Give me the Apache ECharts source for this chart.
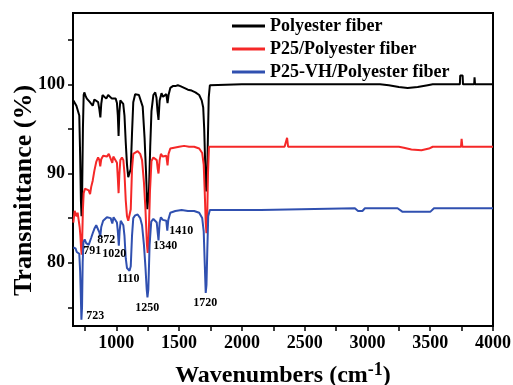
<!DOCTYPE html>
<html>
<head>
<meta charset="utf-8">
<script src="https://cdn.jsdelivr.net/npm/echarts@6/dist/echarts.min.js"></script>
<style>
  html, body { margin: 0; padding: 0; background: #fff; }
  #chart { width: 513px; height: 385px; }
</style>
</head>
<body>
<div id="chart"></div>
<script>
// series names (legend order)
const seriesNames = ['Polyester fiber', 'P25/Polyester fiber', 'P25-VH/Polyester fiber'];

// axis ticks / labels
const xTicks = [750, 1000, 1250, 1500, 1750, 2000, 2250, 2500, 2750, 3000, 3250, 3500, 3750, 4000];
const xLabels = [1000, 1500, 2000, 2500, 3000, 3500, 4000];
const yTicks = [75, 80, 85, 90, 95, 100, 105];
const yLabels = [80, 90, 100];

// Polyester fiber
const blackWn = [658, 670, 682, 695, 705, 712, 718, 723, 728, 734, 740, 745, 755, 765, 777, 790, 800, 812, 825, 840,
  855, 865, 873, 880, 890, 905, 920, 935, 950, 965, 980, 995, 1005, 1012, 1018, 1024, 1032, 1045, 1055, 1065,
  1075, 1085, 1095, 1105, 1115, 1125, 1135, 1150, 1165, 1180, 1195, 1210, 1225, 1237, 1247, 1252, 1260, 1270, 1280, 1295,
  1310, 1320, 1328, 1336, 1345, 1360, 1372, 1385, 1398, 1408, 1416, 1430, 1450, 1470, 1490, 1510, 1540, 1570, 1600, 1630,
  1660, 1680, 1692, 1700, 1708, 1716, 1722, 1728, 1736, 1745, 1760, 2000, 2500, 2950, 2965, 2980, 3100, 3170, 3250, 3320,
  3400, 3480, 3520, 3736, 3739, 3758, 3761, 3850, 3853, 3857, 4000];
const blackT = [98.2, 98.0, 97.6, 97.5, 96.5, 92, 87, 85.2, 88, 95, 98.8, 99.1, 98.7, 98.4, 98.6, 98.0, 98.2, 97.6, 98.3, 98.5,
  98.0, 97.2, 96.3, 97.8, 98.8, 98.7, 98.4, 98.8, 98.9, 98.4, 98.3, 98.4, 97.9, 96.5, 94.2, 96.8, 98.2, 98.0, 97.8, 96.5,
  93.5, 91, 89.6, 89.5, 90.5, 94.5, 98.0, 98.9, 99.0, 98.8, 98.6, 97.5, 94, 90, 86, 85.8, 88, 93, 97, 98.8,
  99.1, 98.5, 97.0, 96.0, 98.2, 99.0, 98.6, 98.4, 98.9, 97.9, 98.8, 99.6, 99.8, 99.8, 99.9, 99.8, 99.6, 99.4, 99.3, 99.1,
  98.8, 98.2, 97.4, 95, 91, 88, 88.5, 93, 98.5, 99.9, 100, 100, 100, 100, 99.9, 100, 100, 99.9, 99.7, 99.6,
  99.7, 99.9, 100, 100, 101, 101, 100, 100, 100.8, 100, 100];

// P25/Polyester fiber
const redWn = [658, 668, 676, 684, 692, 700, 708, 714, 720, 724, 728, 734, 740, 750, 765, 780, 791, 800, 812, 825,
  840, 855, 865, 872, 880, 895, 910, 925, 940, 955, 968, 976, 990, 1005, 1012, 1018, 1024, 1032, 1045, 1056,
  1065, 1075, 1085, 1095, 1105, 1115, 1125, 1135, 1150, 1170, 1190, 1205, 1220, 1232, 1244, 1250, 1257, 1268, 1280, 1295,
  1310, 1322, 1330, 1336, 1345, 1355, 1370, 1385, 1398, 1408, 1416, 1430, 1460, 1500, 1540, 1580, 1620, 1660, 1684, 1696,
  1704, 1712, 1718, 1724, 1730, 1738, 1750, 2340, 2352, 2360, 2368, 3250, 3290, 3350, 3430, 3490, 3520, 3745, 3750, 3756,
  4000];
const redT = [84.5, 85.8, 86.0, 85.2, 85.6, 84.8, 84.0, 83, 81.5, 80.9, 82.5, 86, 87.8, 88.3, 88.2, 88.1, 87.7, 88.5, 89.2, 90.3,
  91.3, 91.8, 91.5, 90.8, 91.6, 92.0, 92.1, 91.9, 92.2, 92.0, 91.2, 91.9, 92.0, 91.2, 89.5, 87.8, 89.8, 91.5, 91.8, 91.5,
  90, 87, 85.2, 84.7, 84.8, 86, 90.5, 92.2, 92.4, 92.5, 92.2, 91.5, 89, 86, 82, 81.1, 82.5, 88, 91.4, 91.8,
  92.0, 91.5, 90.5, 90.0, 91.5, 92.2, 91.9, 92.1, 92.0, 90.9, 92.2, 92.8, 92.9, 93.0, 93.1, 93.0, 93.0, 92.8, 92.3, 91,
  88, 84.5, 83.3, 85, 90, 93.0, 93.1, 93.0, 93.0, 94.0, 93.0, 93.0, 92.9, 92.7, 92.6, 92.8, 93.0, 93.0, 93.9, 93.0,
  93.0];

// P25-VH/Polyester fiber
const blueWn = [658, 665, 675, 685, 695, 705, 712, 717, 722, 727, 732, 738, 748, 760, 770, 780, 791, 800, 812, 825,
  840, 855, 865, 872, 880, 895, 910, 925, 940, 955, 968, 978, 990, 1005, 1012, 1020, 1026, 1035, 1045, 1056,
  1065, 1075, 1085, 1095, 1105, 1115, 1125, 1135, 1150, 1170, 1190, 1205, 1220, 1232, 1242, 1248, 1255, 1265, 1278, 1295,
  1310, 1322, 1330, 1336, 1345, 1355, 1370, 1385, 1398, 1406, 1414, 1430, 1470, 1520, 1570, 1620, 1660, 1684, 1696, 1704,
  1712, 1718, 1724, 1732, 1745, 1800, 2150, 2165, 2900, 2925, 2960, 2980, 3240, 3280, 3500, 3530, 4000];
const blueT = [81.7, 81.9, 81.6, 81.2, 81.4, 81.0, 79, 76.5, 73.6, 75, 80, 82.3, 82.6, 82.2, 82.4, 82.0, 81.8, 82.8, 83.3, 83.8,
  84.2, 84.0, 83.4, 82.9, 84.0, 84.7, 84.9, 85.1, 85.3, 85.0, 84.4, 85.1, 85.2, 84.5, 83.5, 81.9, 83.5, 84.7, 84.6, 84.2,
  83, 80.5, 79.4, 79.2, 79.1, 79.6, 83, 85.0, 85.3, 85.4, 85.0, 84.2, 82, 79.5, 77, 76.1, 77, 82, 84.6, 84.9,
  85.1, 84.5, 83.3, 82.5, 84.5, 85.1, 84.8, 85.0, 84.7, 83.6, 84.8, 85.6, 85.8, 85.9, 85.8, 85.8, 85.6, 85.0, 83.5, 80,
  76.6, 77.5, 81, 85.2, 85.9, 85.9, 85.9, 86.1, 86.1, 85.8, 85.8, 86.1, 86.1, 85.7, 85.7, 86.1, 86.1];

// peak annotations: text and where it sits (wavenumber, transmittance)
const peakLabels = ['723', '791', '872', '1020', '1110', '1250', '1340', '1410', '1720'];
const peakLabelWn = [833, 809, 920, 984, 1095, 1247, 1390, 1517, 1708];
const peakLabelT = [74.0, 81.35, 82.5, 81.0, 78.2, 74.9, 81.9, 83.6, 75.5];

const zip = (xs, ys) => xs.map((x, i) => [x, ys[i]]);
const serif = 'Liberation Serif';

const chart = echarts.init(document.getElementById('chart'));

const lineSeries = (name, xs, ys, color) => ({
  name,
  type: 'line',
  data: zip(xs, ys),
  symbol: 'none',
  lineStyle: { color, width: 2 },
  itemStyle: { color },
  animation: false
});

const blue = lineSeries(seriesNames[2], blueWn, blueT, '#3050b0');
blue.markPoint = {
  symbol: 'circle',
  symbolSize: 1,
  itemStyle: { color: 'transparent' },
  label: {
    show: true,
    position: 'inside',
    color: '#000',
    fontFamily: serif,
    fontWeight: 'bold',
    fontSize: 12,
    formatter: p => p.name
  },
  data: peakLabels.map((t, i) => ({ name: t, coord: [peakLabelWn[i], peakLabelT[i]] }))
};

const option = {
  animation: false,
  grid: {
    left: 73, right: 20, top: 13, bottom: 59,
    show: true, borderColor: '#000', borderWidth: 2,
    outerBoundsMode: 'none'
  },
  legend: {
    orient: 'vertical',
    left: 227,
    top: 12,
    icon: 'rect',
    itemWidth: 33,
    itemHeight: 3,
    itemGap: 5,
    textStyle: { fontFamily: serif, fontWeight: 'bold', fontSize: 18, lineHeight: 18, color: '#000' },
    data: seriesNames
  },
  xAxis: {
    type: 'value',
    min: 655,
    max: 4000,
    name: 'Wavenumbers (cm{sup|-1})',
    nameLocation: 'middle',
    nameGap: 35,
    nameTextStyle: {
      fontFamily: serif, fontWeight: 'bold', fontSize: 24, color: '#000',
      rich: { sup: { fontFamily: serif, fontWeight: 'bold', fontSize: 18, verticalAlign: 'top', padding: [0, 0, 12, 0] } }
    },
    axisLine: { lineStyle: { color: '#000', width: 2 } },
    axisTick: { customValues: xTicks, length: 5, lineStyle: { color: '#000', width: 1.5 } },
    axisLabel: {
      customValues: xLabels, margin: 8, formatter: v => String(v),
      fontFamily: serif, fontWeight: 'bold', fontSize: 18, color: '#000'
    },
    splitLine: { show: false }
  },
  yAxis: {
    type: 'value',
    min: 72.9,
    max: 108,
    name: 'Transmittance (%)',
    nameLocation: 'middle',
    nameMoveOverlap: false,
    nameGap: 36,
    nameTextStyle: { fontFamily: serif, fontWeight: 'bold', fontSize: 26, color: '#000', padding: [0, 42, 0, 0] },
    axisLine: { lineStyle: { color: '#000', width: 2 } },
    axisTick: { customValues: yTicks, length: 5, lineStyle: { color: '#000', width: 1.5 } },
    axisLabel: {
      customValues: yLabels, margin: 8, formatter: v => String(v),
      fontFamily: serif, fontWeight: 'bold', fontSize: 18, color: '#000'
    },
    splitLine: { show: false }
  },
  series: [
    lineSeries(seriesNames[0], blackWn, blackT, '#000'),
    lineSeries(seriesNames[1], redWn, redT, '#f52828'),
    blue
  ]
};

chart.setOption(option);
</script>
</body>
</html>
